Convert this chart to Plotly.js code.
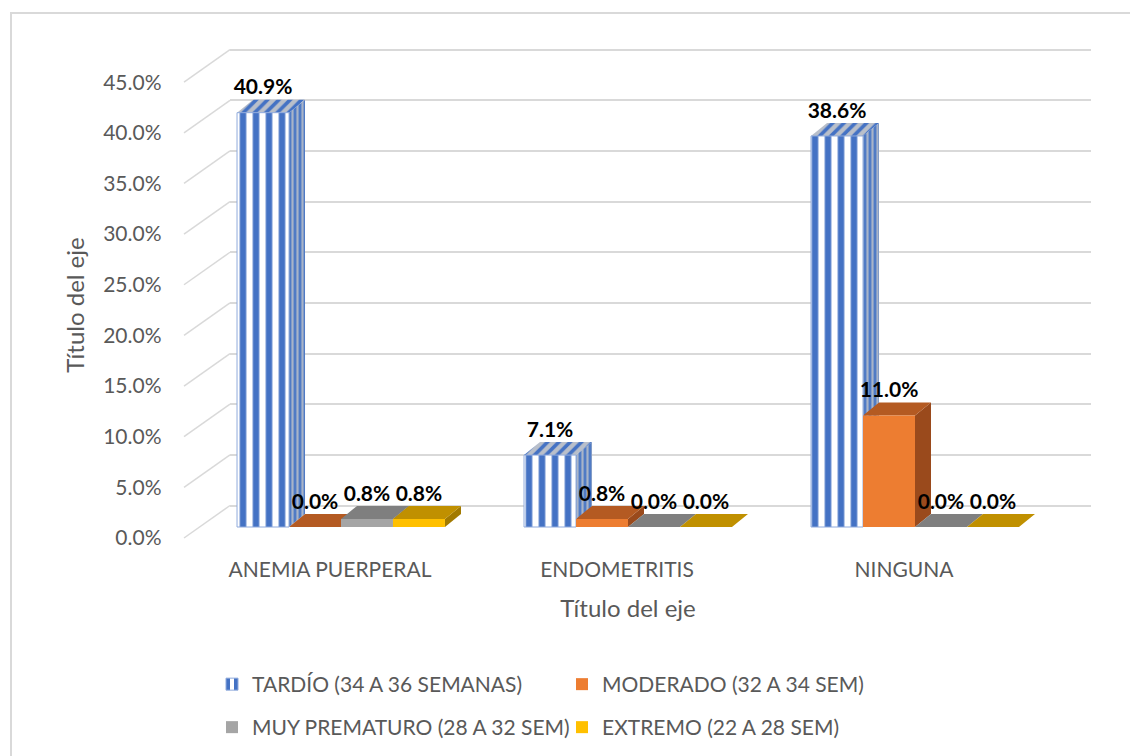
<!DOCTYPE html>
<html>
<head>
<meta charset="utf-8">
<script src="https://cdn.plot.ly/plotly-3.0.1.min.js"></script>
<style>
  html, body { margin: 0; padding: 0; background: #ffffff; }
  #wrap { position: relative; width: 1130px; height: 756px; overflow: hidden; }
  #chart { width: 1130px; height: 756px; }
  #frame { position: absolute; left: 10px; top: 12px; width: 1300px; height: 900px;
           border-top: 2px solid #d9d9d9; border-left: 2px solid #d9d9d9; pointer-events: none; }
</style>
</head>
<body>
<div id="wrap">
  <div id="chart"></div>
  <div id="frame"></div>
</div>
<script>
// ---------------- DATA ----------------
const categories = ['ANEMIA PUERPERAL', 'ENDOMETRITIS', 'NINGUNA'];
const seriesNames = ['TARDÍO (34 A 36 SEMANAS)', 'MODERADO (32 A 34 SEM)', 'MUY PREMATURO (28 A 32 SEM)', 'EXTREMO (22 A 28 SEM)'];
const tardio = [40.9, 7.1, 38.6];
const moderado = [0.0, 0.8, 11.0];
const muyPrematuro = [0.8, 0.0, 0.0];
const extremo = [0.8, 0.0, 0.0];
const yTicks = [0, 5, 10, 15, 20, 25, 30, 35, 40, 45];
const yTickText = yTicks.map(t => t.toFixed(1) + '%');
const axisTitle = 'Título del eje';

// ---------------- STYLE / GEOMETRY ----------------
const seriesValues = [tardio, moderado, muyPrematuro, extremo];
const frontColors = ['#ffffff', '#ed7d31', '#a5a5a5', '#ffc000'];
const topColors = ['#9fb0cf', '#b45a22', '#7f7f7f', '#c09000'];
const sideColors = ['#8e9fbf', '#9a4a1c', '#6f6f6f', '#a27a00'];
const FONT = 'Lato, "Open Sans", sans-serif';
const GREY = '#595959';

const W = 1130, H = 756;
const K = 10.13;                 // px per percentage point
const plotTop = 40, plotBottom = 542;
const dataTop = 68;              // top of the data (front) axis domain
const zeroBarPx = 527, zeroGridPx = 505.5;
const leftPx = 184, rightPx = 1091;
const barDomPx = [197.5, 1058.5];
const gridDomPx = [230, 1091];
const paperW = rightPx - leftPx;
const plotH = plotBottom - plotTop;
const bargap = 0.2755;
const nS = seriesValues.length;
const bw = (1 - bargap) / nS;
const unitPx = (barDomPx[1] - barDomPx[0]) / categories.length;
const dx = 16 / unitPx;          // depth offset in x units
const dy = 13 / K;               // depth offset in y units
const xIdx = categories.map((c, i) => i);

const traces = [];
// empty trace for the back-wall (gridline) subplot
traces.push({ type: 'scatter', x: [], y: [], xaxis: 'x', yaxis: 'y', showlegend: false, hoverinfo: 'skip' });

// 3D faces (top and side) computed from the data values
seriesValues.forEach((vals, s) => {
  const tx = [], ty = [], sx = [], sy = [];
  vals.forEach((v, c) => {
    const xc = c + (s - (nS - 1) / 2) * bw;
    const xl = xc - bw / 2, xr = xc + bw / 2;
    tx.push(xl, xr, xr + dx, xl + dx, xl, null);
    ty.push(v, v, v + dy, v + dy, v, null);
    if (v > 0) {
      sx.push(xr, xr, xr + dx, xr + dx, xr, null);
      sy.push(0, v, v + dy, dy, 0, null);
    }
  });
  const side = { type: 'scatter', mode: 'lines', x: sx, y: sy, xaxis: 'x2', yaxis: 'y2',
    fill: 'toself', fillcolor: sideColors[s], line: { width: 0, color: sideColors[s] },
    showlegend: false, hoverinfo: 'skip', zorder: 0 };
  const top = { type: 'scatter', mode: 'lines', x: tx, y: ty, xaxis: 'x2', yaxis: 'y2',
    fill: 'toself', fillcolor: topColors[s], line: { width: 0, color: topColors[s] },
    showlegend: false, hoverinfo: 'skip', zorder: 0 };
  if (s === 0) {
    side.fillpattern = { shape: '|', fgcolor: '#4472c4', bgcolor: '#a9b4c8', size: 5, solidity: 0.5 };
    top.fillpattern = { shape: '/', fgcolor: '#4472c4', bgcolor: '#b9bfca', size: 8, solidity: 0.45 };
  }
  traces.push(side, top);
});

// front faces: real bars
seriesValues.forEach((vals, s) => {
  const marker = { color: frontColors[s], line: { width: 0 } };
  if (s === 0) {
    marker.pattern = { shape: '|', fgcolor: '#4472c4', bgcolor: '#ffffff', size: 13, solidity: 0.5 };
    marker.line = { width: 1, color: '#8faadc' };
  }
  traces.push({ type: 'bar', name: seriesNames[s], x: xIdx, y: vals, xaxis: 'x2', yaxis: 'y2',
    marker: marker, zorder: 1, hoverinfo: 'skip', legend: s < 2 ? 'legend' : 'legend2' });
});

// data labels
const lx = [], ly = [], lt = [];
seriesValues.forEach((vals, s) => {
  vals.forEach((v, c) => {
    lx.push(c + (s - (nS - 1) / 2) * bw);
    ly.push(v + dy);
    lt.push(v.toFixed(1) + '%');
  });
});
traces.push({ type: 'scatter', mode: 'text', x: lx, y: ly, text: lt, textposition: 'top center',
  textfont: { family: FONT, size: 21, color: '#000000', weight: 700 },
  xaxis: 'x2', yaxis: 'y2', showlegend: false, hoverinfo: 'skip', zorder: 2, cliponaxis: false });

// side-wall diagonals of gridlines
const shapes = yTicks.map(t => ({
  type: 'line', xref: 'paper', yref: 'y', layer: 'below',
  x0: 0, y0: t - (zeroBarPx + 11 - zeroGridPx) / K,
  x1: (gridDomPx[0] - leftPx) / paperW, y1: t,
  line: { color: '#d9d9d9', width: 1.5 }
}));

const legendX = 212 / W;
const legendCommon = { orientation: 'h', xref: 'container', yref: 'container', x: legendX, xanchor: 'left',
  yanchor: 'top', entrywidth: 305, entrywidthmode: 'pixels',
  font: { family: FONT, size: 21, color: GREY }, bgcolor: 'rgba(0,0,0,0)', itemclick: false, itemdoubleclick: false };
const layout = {
  width: W, height: H, autosize: false,
  margin: { l: leftPx, r: W - rightPx, t: plotTop, b: H - plotBottom, pad: 0, autoexpand: false },
  paper_bgcolor: '#ffffff', plot_bgcolor: 'rgba(0,0,0,0)',
  font: { family: FONT, color: GREY, size: 21 },
  barmode: 'group', bargap: bargap, bargroupgap: 0,
  showlegend: true,
  xaxis: { domain: [(gridDomPx[0] - leftPx) / paperW, 1], range: [0, 1], anchor: 'y',
    showgrid: false, zeroline: false, showticklabels: false, showline: false, fixedrange: true },
  yaxis: { domain: [0, 1], anchor: 'x', range: [-(plotBottom - zeroGridPx) / K, (zeroGridPx - plotTop) / K],
    tickvals: yTicks, showticklabels: false, showgrid: true, gridcolor: '#d9d9d9', gridwidth: 2,
    zeroline: false, showline: false, ticks: '', fixedrange: true },
  xaxis2: { domain: [(barDomPx[0] - leftPx) / paperW, (barDomPx[1] - leftPx) / paperW], anchor: 'y2',
    range: [-0.5, categories.length - 0.5], tickvals: xIdx, ticktext: categories,
    showgrid: false, zeroline: false, showline: false, ticks: '',
    tickfont: { family: FONT, size: 21, color: GREY }, ticklabelshift: -11, ticklabelstandoff: 13,
    title: { text: axisTitle, font: { family: FONT, size: 24, color: GREY }, standoff: 20 },
    fixedrange: true },
  yaxis2: { domain: [0, (plotBottom - dataTop) / plotH], anchor: 'x2',
    range: [-(plotBottom - zeroBarPx) / K, (zeroBarPx - dataTop) / K],
    tickvals: yTicks, ticktext: yTickText, showgrid: false, zeroline: false, showline: false, ticks: '',
    tickfont: { family: FONT, size: 21, color: GREY }, ticklabelshift: 11, ticklabelstandoff: 35,
    title: { text: axisTitle, font: { family: FONT, size: 24, color: GREY }, standoff: 11 },
    fixedrange: true },
  legend: Object.assign({}, legendCommon, { y: 1 - 664 / H }),
  legend2: Object.assign({}, legendCommon, { y: 1 - 707 / H }),
  shapes: shapes
};

Plotly.newPlot('chart', traces, layout, { displayModeBar: false, staticPlot: true });
</script>
</body>
</html>
